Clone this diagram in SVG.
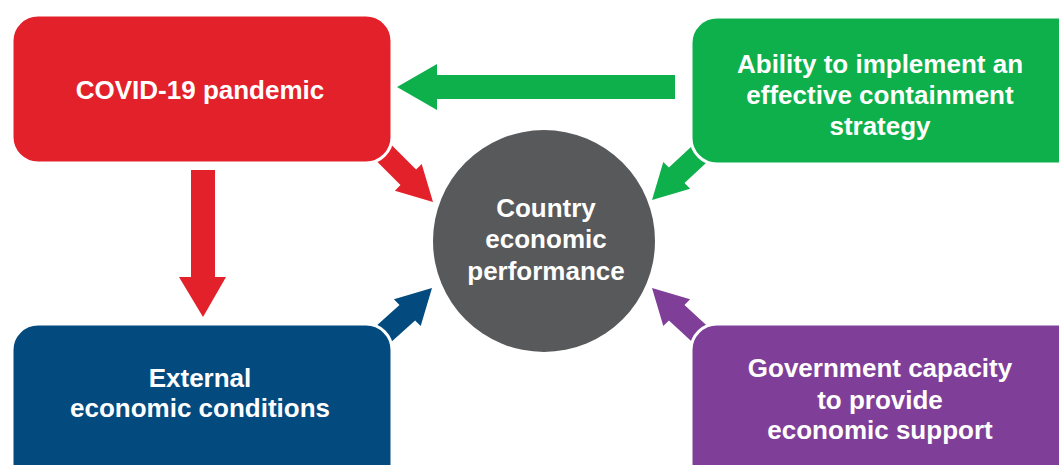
<svg xmlns="http://www.w3.org/2000/svg" width="1059" height="465" viewBox="0 0 1059 465">
<style>
.box{stroke:#fff;stroke-width:3}
.t{font-family:"Liberation Sans",Arial,sans-serif;font-weight:bold;font-size:26px;fill:#fff;text-anchor:middle}
</style>
<rect width="1059" height="465" fill="#fff"/>
<g id="connectors">
<polygon fill="#0DB04B" points="675,75 437,75 437,64 397,87 437,110 437,99 675,99"/>
<polygon fill="#E3212B" points="191,170 215,170 215,277 226,277 203,317 179,277 191,277"/>
<polygon fill="#E3212B" points="362.2,146.8 377.8,131.2 416.1,169.5 421.7,163.9 433,202 394.9,190.7 400.5,185.1"/>
<polygon fill="#0DB04B" points="727.8,142.8 712.2,127.2 668.9,167.5 663.3,161.9 652,200 690.1,188.7 684.5,183.1"/>
<polygon fill="#034A7E" points="374.8,356.8 359.2,341.2 399.5,304.9 393.9,299.3 432,288 420.7,326.1 415.1,320.5"/>
<polygon fill="#7F3F98" points="723.8,341.2 708.2,356.8 668.9,320.5 663.3,326.1 652,288 690.1,299.3 684.5,304.9"/>
</g>
<g id="covid">
<rect class="box" x="12" y="15" width="380" height="148" rx="26" fill="#E3212B"/>
<text class="t" x="200" y="99">COVID-19 pandemic</text>
</g>
<g id="containment">
<rect class="box" x="691" y="17" width="400" height="147" rx="26" fill="#0DB04B"/>
<text class="t" x="880" y="73">Ability to implement an</text>
<text class="t" x="880" y="104">effective containment</text>
<text class="t" x="880" y="135">strategy</text>
</g>
<g id="external">
<rect class="box" x="12" y="324" width="380" height="170" rx="26" fill="#034A7E"/>
<text class="t" x="200" y="387">External</text>
<text class="t" x="200" y="417">economic conditions</text>
</g>
<g id="government">
<rect class="box" x="691" y="324" width="400" height="170" rx="26" fill="#7F3F98"/>
<text class="t" x="880" y="377">Government capacity</text>
<text class="t" x="880" y="409">to provide</text>
<text class="t" x="880" y="439">economic support</text>
</g>
<g id="performance">
<circle cx="544" cy="241" r="111" fill="#58595B"/>
<text class="t" x="546" y="217">Country</text>
<text class="t" x="546" y="248">economic</text>
<text class="t" x="546" y="280">performance</text>
</g>
</svg>
